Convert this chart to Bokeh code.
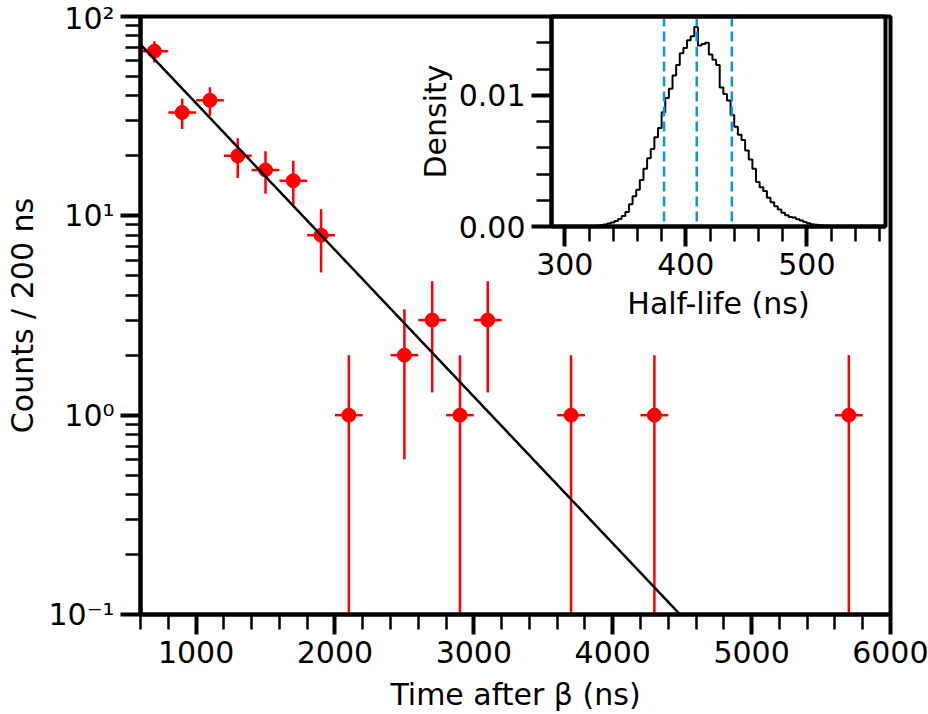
import numpy as np
from bokeh.plotting import figure
from bokeh.layouts import column
from bokeh.models import FixedTicker, CustomJSTickFormatter, PrintfTickFormatter, Span
from bokeh.embed import file_html
from bokeh.resources import INLINE

# ---------------- data ----------------
time_ns = [700, 900, 1100, 1300, 1500, 1700, 1900, 2100, 2500, 2700, 2900, 3100, 3700, 4300, 5700]
counts = [67, 33, 38, 20, 17, 15, 8, 1, 2, 3, 1, 3, 1, 1, 1]
count_err = [8.2, 5.7, 6.2, 4.5, 4.1, 3.9, 2.8, 1.0, 1.4, 1.7, 1.0, 1.7, 1.0, 1.0, 1.0]
bin_width = 200

fit_n0 = 200.0          # amplitude of fitted decay
fit_half_life = 409.0   # ns

hist_first_edge = 317
hist_bin = 3
hist_density = [
    0.00000, 0.00001, 0.00003, 0.00006, 0.00010, 0.00015, 0.00022, 0.00030,
    0.00042, 0.00058, 0.00080, 0.00110, 0.00170, 0.00230, 0.00280, 0.00355,
    0.00440, 0.00520, 0.00590, 0.00680, 0.00750, 0.00870, 0.00980, 0.01050,
    0.01150, 0.01230, 0.01320, 0.01360, 0.01420, 0.01450, 0.01520, 0.01380,
    0.01390, 0.01400, 0.01310, 0.01270, 0.01230, 0.01060, 0.01010, 0.00960,
    0.00850, 0.00760, 0.00700, 0.00660, 0.00580, 0.00510, 0.00440, 0.00340,
    0.00300, 0.00270, 0.00220, 0.00185, 0.00155, 0.00130, 0.00105, 0.00085,
    0.00072, 0.00068, 0.00055, 0.00045, 0.00034, 0.00025, 0.00018, 0.00013,
    0.00010, 0.00007, 0.00005, 0.00004, 0.00003, 0.00002, 0.00002, 0.00001,
    0.00001, 0.00000, 0.00000,
]
half_life_quantiles = [382, 409, 438]

main_x_ticks = [1000, 2000, 3000, 4000, 5000, 6000]
main_y_ticks = [0.1, 1, 10, 100]
inset_x_ticks = [300, 400, 500]
inset_y_ticks = [0.0, 0.01]

# ---------------- style ----------------
FONT = "DejaVu Sans"
FS = "30px"
RED = "#ff0000"
BLUE = "#0a96ea"


def style_axis(ax, label_standoff=5):
    ax.axis_line_width = 4
    ax.axis_line_color = "black"
    ax.major_tick_in = 0
    ax.major_tick_out = 20
    ax.minor_tick_in = 0
    ax.minor_tick_out = 15
    ax.major_tick_line_width = 4
    ax.minor_tick_line_width = 2.5
    ax.major_label_text_font = FONT
    ax.major_label_text_font_size = FS
    ax.major_label_text_color = "black"
    ax.axis_label_text_font = FONT
    ax.axis_label_text_font_size = FS
    ax.axis_label_text_font_style = "normal"
    ax.axis_label_text_color = "black"
    ax.major_label_standoff = 6
    ax.axis_label_standoff = label_standoff


# ---------------- main plot ----------------
W, H = 928, 714
p = figure(width=W, height=H, x_range=(600, 6000), y_range=(0.1, 100),
           y_axis_type="log", output_backend="svg", toolbar_location=None,
           min_border_left=140, min_border_right=38, min_border_top=16,
           min_border_bottom=98)
p.background_fill_color = None
p.border_fill_color = None
p.outline_line_color = "black"
p.outline_line_width = 4
p.xgrid.visible = False
p.ygrid.visible = False

t = np.array(time_ns, dtype=float)
c = np.array(counts, dtype=float)
e = np.array(count_err, dtype=float)
lo = np.maximum(c - e, 1e-3)
hi = c + e

p.segment(x0=t - bin_width / 2, x1=t + bin_width / 2, y0=c, y1=c, line_color=RED, line_width=2.5)
p.segment(x0=t, x1=t, y0=lo, y1=hi, line_color=RED, line_width=2.5)
p.scatter(t, c, size=14, fill_color=RED, line_color=RED)

tf = np.linspace(600, 6000, 300)
p.line(tf, fit_n0 * 2.0 ** (-tf / fit_half_life), line_color="black", line_width=2.5)

style_axis(p.xaxis[0], label_standoff=11)
style_axis(p.yaxis[0], label_standoff=5)
p.xaxis.ticker = FixedTicker(ticks=main_x_ticks, minor_ticks=list(range(600, 6001, 200)))
p.yaxis.ticker = FixedTicker(
    ticks=main_y_ticks,
    minor_ticks=[m * d for d in main_y_ticks[:-1] for m in range(2, 10)])
p.yaxis.formatter = CustomJSTickFormatter(code="""
const sup = {"-": "\u207b", "0": "\u2070", "1": "\u00b9", "2": "\u00b2", "3": "\u00b3"};
const e = Math.round(Math.log10(tick));
return "10" + String(e).split("").map(ch => sup[ch]).join("");
""")
p.xaxis.axis_label = "Time after \u03b2 (ns)"
p.yaxis.axis_label = "Counts / 200 ns"

# ---------------- inset ----------------
IW, IH = 512, 336
q = figure(width=IW, height=IH, x_range=(289, 565), y_range=(0, 0.016),
           output_backend="svg", toolbar_location=None,
           min_border_left=140, min_border_right=10, min_border_top=16,
           min_border_bottom=IH - 16 - 210)
q.background_fill_color = None
q.border_fill_color = None
q.outline_line_color = "black"
q.outline_line_width = 4
q.xgrid.visible = False
q.ygrid.visible = False

edges = hist_first_edge + hist_bin * np.arange(len(hist_density) + 1)
q.step(edges, list(hist_density) + [hist_density[-1]], mode="after",
       line_color="black", line_width=2)
for qv in half_life_quantiles:
    q.add_layout(Span(location=qv, dimension="height", line_color=BLUE,
                      line_width=2.5, line_dash="10 5"))

style_axis(q.xaxis[0], label_standoff=8)
style_axis(q.yaxis[0], label_standoff=3)
q.xaxis.ticker = FixedTicker(ticks=inset_x_ticks, minor_ticks=list(range(300, 561, 20)))
q.yaxis.ticker = FixedTicker(ticks=inset_y_ticks,
                             minor_ticks=[k / 1000 for k in range(2, 16, 2)])
q.yaxis.formatter = PrintfTickFormatter(format="%.2f")
q.xaxis.axis_label = "Half-life (ns)"
q.yaxis.axis_label = "Density"

q.margin = (0, 0, -IH, 411)
p.margin = (0, 0, 0, 0)

layout = column(q, p)
open("out.html", "w").write(file_html(layout, INLINE))
